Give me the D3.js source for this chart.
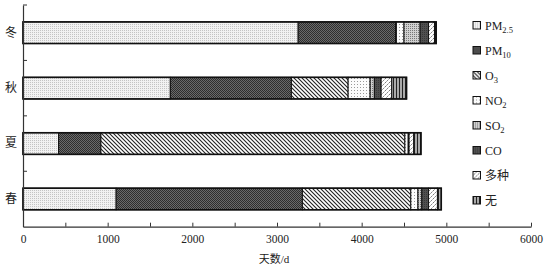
<!DOCTYPE html>
<html>
<head>
<meta charset="utf-8">
<script src="https://cdn.jsdelivr.net/npm/d3@7"></script>
<style>
body { margin: 0; background: #fff; }
text { font-family: "Liberation Serif", "Noto Sans CJK SC", serif; fill: #222; }
</style>
</head>
<body>
<script>
// 各季节 首要污染物 天数
let seasons = ["冬", "秋", "夏", "春"];
let keys = ["PM25", "PM10", "O3", "NO2", "SO2", "CO", "multi", "none"];
let PM25 = [3250, 1740, 420, 1100];
let PM10 = [1150, 1430, 500, 2200];
let O3 = [10, 670, 3590, 1280];
let NO2 = [90, 260, 40, 85];
let SO2 = [190, 50, 0, 45];
let CO = [100, 80, 10, 80];
let multi = [70, 125, 55, 105];
let none = [20, 175, 85, 45];
let legendMain = ["PM", "PM", "O", "NO", "SO", "CO", "多种", "无"];
let legendSub = ["2.5", "10", "3", "2", "2", "", "", ""];
let xTicks = [0, 500, 1000, 1500, 2000, 2500, 3000, 3500, 4000, 4500, 5000, 5500, 6000];

let series = { PM25, PM10, O3, NO2, SO2, CO, multi, none };
let rows = seasons.map((s, i) => {
    let r = { season: s };
    keys.forEach(k => r[k] = series[k][i]);
    return r;
});

let width = 547;
let height = 266;

let svg = d3.select("body")
    .append("svg")
    .attr("width", width)
    .attr("height", height);

// 填充图案
let defs = svg.append("defs");
function pat(id, w, h, draw) {
    let p = defs.append("pattern")
        .attr("id", id)
        .attr("patternUnits", "userSpaceOnUse")
        .attr("width", w)
        .attr("height", h);
    draw(p);
}
pat("p0", 2, 2, p => {
    p.append("rect").attr("width", 2).attr("height", 2).attr("fill", "#f2f2f2");
    p.append("rect").attr("width", 1).attr("height", 1).attr("fill", "#c4c4c4");
});
pat("p1", 2, 2, p => {
    p.append("rect").attr("width", 2).attr("height", 2).attr("fill", "#6a6a6a");
    p.append("rect").attr("width", 1).attr("height", 1).attr("fill", "#2e2e2e");
    p.append("rect").attr("x", 1).attr("y", 1).attr("width", 1).attr("height", 1).attr("fill", "#2e2e2e");
});
pat("p2", 4, 4, p => {
    p.append("rect").attr("width", 4).attr("height", 4).attr("fill", "#fff");
    p.append("path").attr("d", "M-1,-1L5,5M-1,3L1,5M3,-1L5,1").attr("stroke", "#222").attr("stroke-width", 1.1);
});
pat("p3", 3, 3, p => {
    p.append("rect").attr("width", 3).attr("height", 3).attr("fill", "#fbfbfb");
    p.append("rect").attr("width", 1).attr("height", 1).attr("fill", "#999");
});
pat("p4", 2, 2, p => {
    p.append("rect").attr("width", 2).attr("height", 2).attr("fill", "#d0d0d0");
    p.append("rect").attr("width", 1).attr("height", 1).attr("fill", "#777");
});
pat("p5", 2, 2, p => {
    p.append("rect").attr("width", 2).attr("height", 2).attr("fill", "#505050");
    p.append("rect").attr("width", 1).attr("height", 1).attr("fill", "#383838");
});
pat("p6", 4, 4, p => {
    p.append("rect").attr("width", 4).attr("height", 4).attr("fill", "#fff");
    p.append("path").attr("d", "M-1,5L5,-1M-1,1L1,-1M3,5L5,3").attr("stroke", "#666").attr("stroke-width", 1).attr("stroke-dasharray", "2,1");
});
pat("p7", 3, 3, p => {
    p.append("rect").attr("width", 3).attr("height", 3).attr("fill", "#aaa");
    p.append("rect").attr("width", 1).attr("height", 3).attr("fill", "#222");
});

let scaleX = d3.scaleLinear()
    .domain([0, 6000])
    .range([23, 531]);
let scaleY = d3.scaleBand()
    .domain(seasons)
    .range([5, 226.7])
    .paddingInner(0.61)
    .paddingOuter(0.305);

let stack = d3.stack().keys(keys)(rows);

// 堆叠条
stack.forEach((layer, i) => {
    svg.append("g")
        .selectAll("rect")
        .data(layer)
        .join("rect")
        .attr("x", d => scaleX(d[0]))
        .attr("y", d => scaleY(d.data.season))
        .attr("width", d => scaleX(d[1]) - scaleX(d[0]))
        .attr("height", scaleY.bandwidth())
        .attr("fill", `url(#p${i})`)
        .attr("stroke", "#111")
        .attr("stroke-width", 1);
});
// 外框
svg.append("g")
    .selectAll("rect")
    .data(rows)
    .join("rect")
    .attr("x", scaleX(0))
    .attr("y", d => scaleY(d.season))
    .attr("width", d => scaleX(d3.sum(keys, k => d[k])) - scaleX(0))
    .attr("height", scaleY.bandwidth())
    .attr("fill", "none")
    .attr("stroke", "#111")
    .attr("stroke-width", 1.6);

// 横轴
let axisX = d3.axisBottom(scaleX)
    .tickValues(xTicks)
    .tickSizeInner(-4)
    .tickSizeOuter(0)
    .tickPadding(8)
    .tickFormat(d => d % 1000 === 0 ? d : "");
let gx = svg.append("g")
    .attr("transform", `translate(0, ${scaleY.range()[1]})`)
    .call(axisX);
gx.select(".domain").attr("stroke", "#333").attr("stroke-width", 1.2);
gx.selectAll(".tick line").attr("stroke", "#333");
gx.selectAll("text").style("font-size", "11.5px").attr("fill", "#222");

// 纵轴
let axisY = d3.axisLeft(scaleY).tickSize(0).tickPadding(6);
let gy = svg.append("g")
    .attr("transform", `translate(${scaleX(0)}, 0)`)
    .call(axisY);
gy.select(".domain").attr("stroke", "#333").attr("stroke-width", 1.2);
gy.selectAll("text").style("font-size", "12px").attr("fill", "#222");
gy.selectAll(".ytick")
    .data(seasons)
    .join("line")
    .attr("x1", 0)
    .attr("x2", 4)
    .attr("y1", d => scaleY(d) - scaleY.step() * scaleY.paddingOuter())
    .attr("y2", d => scaleY(d) - scaleY.step() * scaleY.paddingOuter())
    .attr("stroke", "#333");

svg.append("text")
    .attr("x", 274)
    .attr("y", 263)
    .attr("text-anchor", "middle")
    .style("font-size", "11px")
    .text("天数/d");

// 图例
let legend = svg.append("g")
    .selectAll("g")
    .data(keys)
    .join("g")
    .attr("transform", (d, i) => `translate(473, ${21.5 + i * 25})`);
legend.append("rect")
    .attr("width", 7.5)
    .attr("height", 7.5)
    .attr("fill", (d, i) => `url(#p${i})`)
    .attr("stroke", "#111")
    .attr("stroke-width", 1);
let lt = legend.append("text")
    .attr("x", 12)
    .attr("y", 8)
    .style("font-size", "12px");
lt.append("tspan").text((d, i) => legendMain[i]);
lt.append("tspan")
    .attr("dy", 3)
    .style("font-size", "8.5px")
    .text((d, i) => legendSub[i]);
</script>
</body>
</html>
